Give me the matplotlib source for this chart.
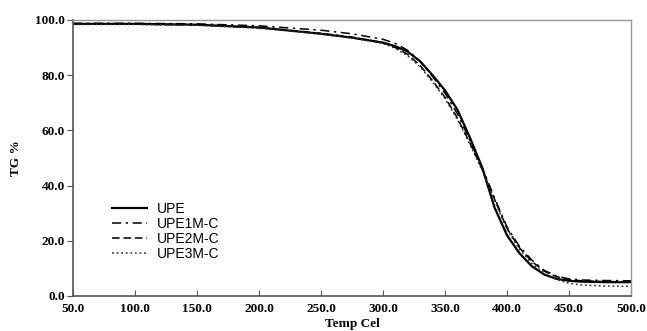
import matplotlib
matplotlib.use("Agg")
import matplotlib.pyplot as plt

# Temperatures (Cel) and TG % readings for each sample
temp = [50, 100, 150, 200, 250, 275, 300, 310, 320, 330, 340, 350, 360, 370,
        380, 390, 400, 410, 420, 430, 440, 450, 460, 480, 500]
upe = [98.6, 98.6, 98.3, 97.3, 95.0, 93.6, 91.8, 90.5, 88.5, 85.0, 80.0, 74.5, 67.5, 57.5,
       46.5, 32.0, 22.0, 15.5, 10.8, 7.8, 6.2, 5.5, 5.2, 5.0, 5.0]
upe1m = [98.8, 98.8, 98.6, 97.9, 96.3, 95.0, 93.0, 91.5, 89.0, 85.0, 79.5, 73.5, 66.0, 56.5,
         46.5, 35.5, 25.0, 18.0, 13.0, 9.3, 7.2, 6.2, 5.8, 5.6, 5.5]
upe2m = [98.5, 98.5, 98.2, 97.2, 95.2, 93.8, 91.8, 90.0, 87.5, 83.5, 78.0, 72.0, 64.5, 55.5,
         46.0, 35.0, 24.5, 17.5, 12.5, 9.0, 7.0, 6.0, 5.5, 5.2, 5.2]
upe3m = [98.4, 98.4, 98.1, 97.0, 95.0, 93.5, 91.5, 89.7, 87.0, 83.0, 77.5, 71.5, 64.0, 55.0,
         45.5, 34.5, 24.0, 17.0, 11.8, 8.2, 6.0, 4.6, 4.0, 3.6, 3.5]

xticks = [50, 100, 150, 200, 250, 300, 350, 400, 450, 500]
yticks = [0, 20, 40, 60, 80, 100]

fig = plt.figure(figsize=(6.47, 3.31), dpi=100)
ax = fig.add_axes([73 / 647, 1 - 296 / 331, (631 - 73) / 647, (296 - 20) / 331])

ax.plot(temp, upe, color="black", lw=1.6, ls="-", label="UPE")
ax.plot(temp, upe1m, color="black", lw=1.1, ls=(0, (6, 3, 1.5, 3)), label="UPE1M-C")
ax.plot(temp, upe2m, color="black", lw=1.1, ls=(0, (5, 2.5)), label="UPE2M-C")
ax.plot(temp, upe3m, color="#333333", lw=1.1, ls=(0, (1.2, 1.8)), label="UPE3M-C")

ax.set_xlim(50, 500)
ax.set_ylim(0, 100)
ax.set_xticks(xticks)
ax.set_yticks(yticks)
ax.set_xticklabels(["%.1f" % v for v in xticks])
ax.set_yticklabels(["%.1f" % v for v in yticks])

serif = {"family": "Liberation Serif", "weight": "bold", "size": 9.5}
for lab in ax.get_xticklabels() + ax.get_yticklabels():
    lab.set_fontproperties(serif)
ax.tick_params(axis="x", direction="in", length=4, pad=5, color="#555555")
ax.tick_params(axis="y", direction="out", length=4, pad=2, color="#555555")

for side in ["left", "bottom"]:
    ax.spines[side].set_color("#555555")
    ax.spines[side].set_linewidth(1.2)
for side in ["top", "right"]:
    ax.spines[side].set_color("#999999")
    ax.spines[side].set_linewidth(1.0)

ax.set_xlabel("Temp Cel", fontdict=serif, labelpad=2)
ax.set_ylabel("TG %", fontdict=serif, labelpad=9)

leg = ax.legend(loc="upper left", bbox_to_anchor=(112 / 647, 1 - 202 / 331),
                bbox_transform=fig.transFigure, frameon=False, borderpad=0,
                borderaxespad=0, handlelength=2.5, handletextpad=0.7,
                labelspacing=0.08, prop={"family": "Liberation Sans", "size": 10})

fig.savefig("out.png", dpi=100)
